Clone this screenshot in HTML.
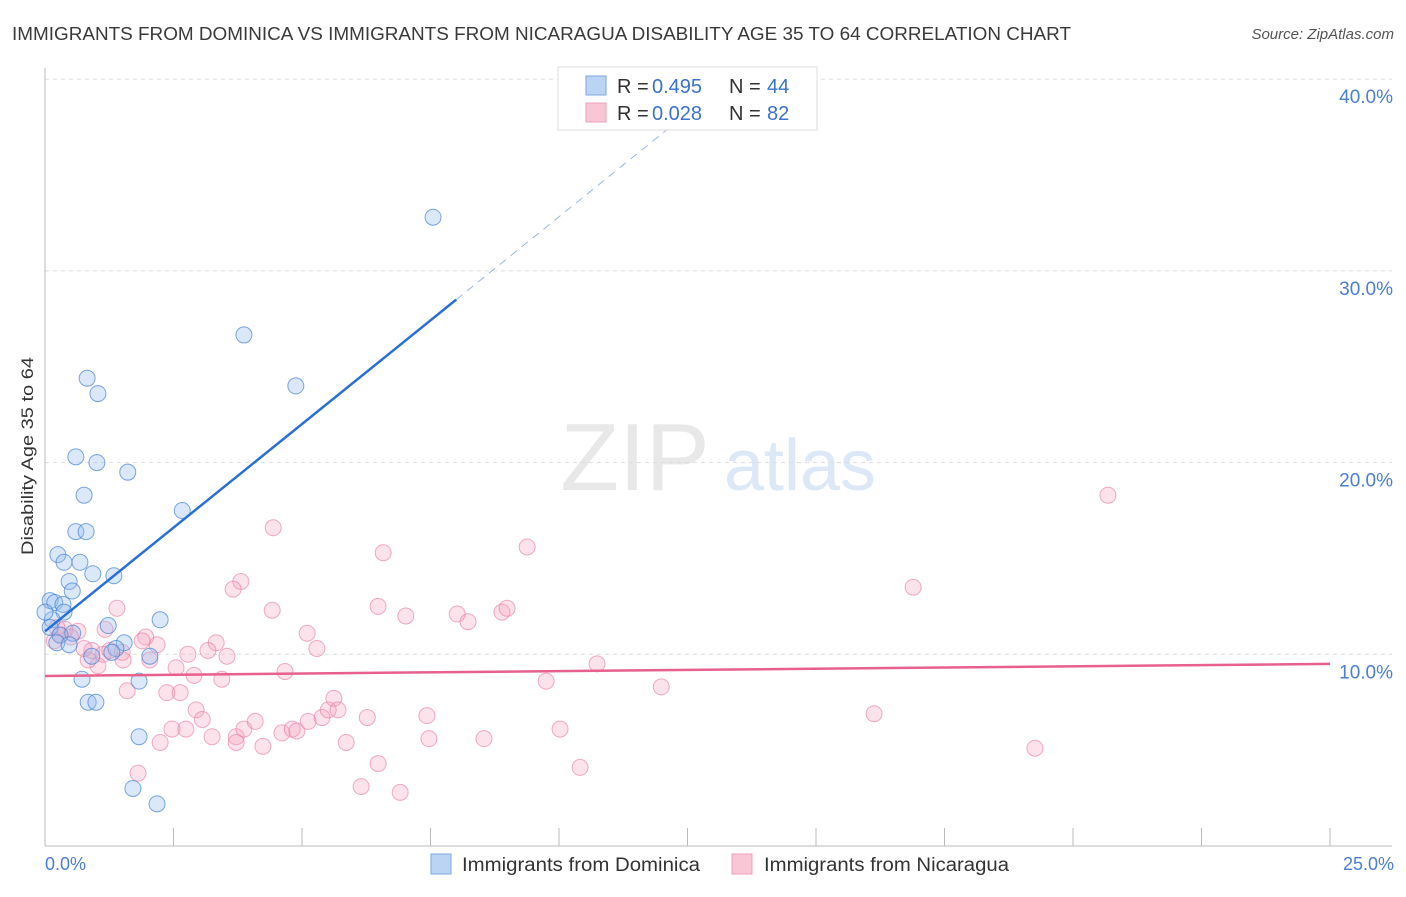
<!DOCTYPE html>
<html><head><meta charset="utf-8"><style>
body{margin:0;background:#fff;font-family:"Liberation Sans",sans-serif;}
svg text{font-family:"Liberation Sans",sans-serif;}
</style></head><body>
<svg id="chart" width="1406" height="892" viewBox="0 0 1406 892" xmlns="http://www.w3.org/2000/svg">
<text x="12" y="40" font-size="18" fill="#3a3a3a" textLength="1059" lengthAdjust="spacingAndGlyphs">IMMIGRANTS FROM DOMINICA VS IMMIGRANTS FROM NICARAGUA DISABILITY AGE 35 TO 64 CORRELATION CHART</text>
<text x="1394" y="39" font-size="15" fill="#555" font-style="italic" text-anchor="end">Source: ZipAtlas.com</text>
<g>
<text x="635" y="490" font-size="96" fill="#e8e8e8" text-anchor="middle" font-family="Liberation Serif">ZIP</text>
<text x="800" y="490" font-size="72" fill="#dce8f6" text-anchor="middle">atlas</text>
</g>
<g id="grid"></g>
<g id="axes"></g>
<g id="pts"></g>
<g id="trend"></g>
<text transform="translate(33,456) rotate(-90)" font-size="17" fill="#333" text-anchor="middle" textLength="198" lengthAdjust="spacingAndGlyphs">Disability Age 35 to 64</text>
<text x="45" y="870" font-size="18" fill="#4a7fd4">0.0%</text>
<text x="1394" y="870" font-size="18" fill="#4a7fd4" text-anchor="end">25.0%</text>
<g>
<rect x="558" y="67" width="259" height="63" fill="#fff" stroke="#ddd"/>
<rect x="586" y="76" width="20" height="19" fill="#bcd4f4" stroke="#7fa8e0"/>
<rect x="586" y="103" width="20" height="19" fill="#f9c6d6" stroke="#eea2ba"/>
<text x="617" y="93" font-size="20" fill="#333">R =</text>
<text x="652" y="93" font-size="20" fill="#3a72cc">0.495</text>
<text x="729" y="93" font-size="20" fill="#333">N =</text>
<text x="767" y="93" font-size="20" fill="#3a72cc">44</text>
<text x="617" y="120" font-size="20" fill="#333">R =</text>
<text x="652" y="120" font-size="20" fill="#3a72cc">0.028</text>
<text x="729" y="120" font-size="20" fill="#333">N =</text>
<text x="767" y="120" font-size="20" fill="#3a72cc">82</text>
</g>
<g>
<rect x="431" y="854" width="20" height="20" fill="#bcd4f4" stroke="#7fa8e0"/>
<text x="462" y="871" font-size="19" fill="#333" textLength="238" lengthAdjust="spacingAndGlyphs">Immigrants from Dominica</text>
<rect x="732" y="854" width="20" height="20" fill="#f9c6d6" stroke="#eea2ba"/>
<text x="764" y="871" font-size="19" fill="#333" textLength="245" lengthAdjust="spacingAndGlyphs">Immigrants from Nicaragua</text>
</g>
</svg>
<script>
const blueX=[7.55,3.87,4.88,0.82,1.03,0.60,1.01,1.61,0.76,2.67,0.60,0.80,0.25,0.37,0.68,0.93,1.34,0.47,0.53,0.10,0.19,0.35,0.37,0.14,2.24,0.10,1.23,0.29,0.54,0.23,0.47,1.54,1.38,2.04,0.91,1.30,0.72,1.83,0.84,0.99,1.83,1.71,2.18,0.00];
const blueY=[32.8,26.66,24.0,24.4,23.6,20.3,20.0,19.5,18.3,17.5,16.4,16.4,15.2,14.8,14.8,14.2,14.1,13.8,13.3,12.8,12.7,12.6,12.2,11.8,11.8,11.4,11.5,11.0,11.1,10.6,10.5,10.6,10.3,9.9,9.9,10.1,8.7,8.6,7.5,7.5,5.7,3.0,2.2,12.2];
const pinkX=[20.68,16.89,16.13,19.26,9.38,6.58,4.44,3.81,3.66,6.48,7.02,8.02,8.23,8.89,8.99,4.42,1.40,5.10,5.29,3.33,3.17,3.54,2.78,2.55,4.67,3.44,2.04,2.18,1.96,1.89,1.52,1.03,0.84,1.13,1.26,0.91,1.17,0.64,0.39,0.76,10.74,9.75,11.99,1.60,2.37,2.63,2.94,3.06,2.47,2.74,3.25,2.24,3.72,3.87,4.09,4.24,3.72,4.61,4.81,4.90,5.12,5.39,5.51,5.62,5.70,6.27,5.86,7.43,7.47,8.54,10.02,6.48,10.41,6.15,6.91,1.81,0.18,0.23,0.5,1.5,2.9,0.3];
const pinkY=[18.3,13.5,6.9,5.1,15.6,15.3,16.6,13.8,13.4,12.5,12.0,12.1,11.7,12.2,12.4,12.3,12.4,11.1,10.3,10.6,10.2,9.9,10.0,9.3,9.1,8.7,9.7,10.5,10.9,10.7,9.7,9.4,9.7,10.0,10.2,10.2,11.3,11.2,11.3,10.3,9.5,8.6,8.3,8.1,8.0,8.0,7.1,6.6,6.1,6.1,5.7,5.4,5.7,6.1,6.5,5.2,5.4,5.9,6.1,6.0,6.5,6.7,7.1,7.7,7.1,6.7,5.4,6.8,5.6,5.6,6.1,4.3,4.1,3.1,2.8,3.8,10.7,11.4,10.9,10.1,8.9,11.0];
const yTicks=[10,20,30,40];
const yTickLabels=["10.0%","20.0%","30.0%","40.0%"];
const xTicks=[0,2.5,5,7.5,10,12.5,15,17.5,20,22.5,25];
const blueTrend={x0:0,y0:11.2,x1:8.0,y1:28.5,xd:12.5};
const pinkTrend={x0:0,y0:8.87,x1:25,y1:9.5};
const sx=v=>45+v*51.4, sy=v=>846-v*19.17;
const NS="http://www.w3.org/2000/svg";
function mk(t,a,p){const e=document.createElementNS(NS,t);for(const k in a)e.setAttribute(k,a[k]);p.appendChild(e);return e;}
const grid=document.getElementById('grid'),axes=document.getElementById('axes'),pts=document.getElementById('pts'),tr=document.getElementById('trend');
yTicks.forEach((t,i)=>{
 const l=mk('line',{x1:45,x2:1392,y1:sy(t),y2:sy(t),stroke:'#ddd','stroke-dasharray':'4,4'},grid);
 
 
 const tx=mk('text',{x:1393,y:sy(t)+24,'font-size':19,fill:'#4a7fd4','text-anchor':'end'},grid);
 tx.textContent=yTickLabels[i];
 
 
});
const ya=mk('line',{x1:45,x2:45,y1:68,y2:846,stroke:'#bbb'},axes);


const xa=mk('line',{x1:45,x2:1392,y1:846,y2:846,stroke:'#bbb'},axes);


xTicks.forEach(t=>{
 const l=mk('line',{x1:sx(t),x2:sx(t),y1:828,y2:846,stroke:'#bbb'},axes);
 
 
});
pinkX.forEach((x,i)=>{
 const c=mk('circle',{cx:sx(x),cy:sy(pinkY[i]),r:8,fill:'rgba(245,160,190,0.3)',stroke:'rgba(232,120,160,0.6)','stroke-width':1},pts);
 
 
});
blueX.forEach((x,i)=>{
 const c=mk('circle',{cx:sx(x),cy:sy(blueY[i]),r:8,fill:'rgba(150,190,240,0.35)',stroke:'rgba(70,130,210,0.7)','stroke-width':1},pts);
 
 
});
const slope=(blueTrend.y1-blueTrend.y0)/(blueTrend.x1-blueTrend.x0);
const b1=mk('line',{x1:sx(blueTrend.x0),y1:sy(blueTrend.y0),x2:sx(blueTrend.x1),y2:sy(blueTrend.y1),stroke:'#2a6fd6','stroke-width':2.5},tr);


const b2=mk('line',{x1:sx(blueTrend.x1),y1:sy(blueTrend.y1),x2:sx(blueTrend.xd),y2:sy(blueTrend.y0+slope*blueTrend.xd),stroke:'#9ab8e0','stroke-width':1,'stroke-dasharray':'8,6'},tr);


const p1=mk('line',{x1:sx(pinkTrend.x0),y1:sy(pinkTrend.y0),x2:sx(pinkTrend.x1),y2:sy(pinkTrend.y1),stroke:'#e8608c','stroke-width':2.5},tr);


</script>
</body></html>
